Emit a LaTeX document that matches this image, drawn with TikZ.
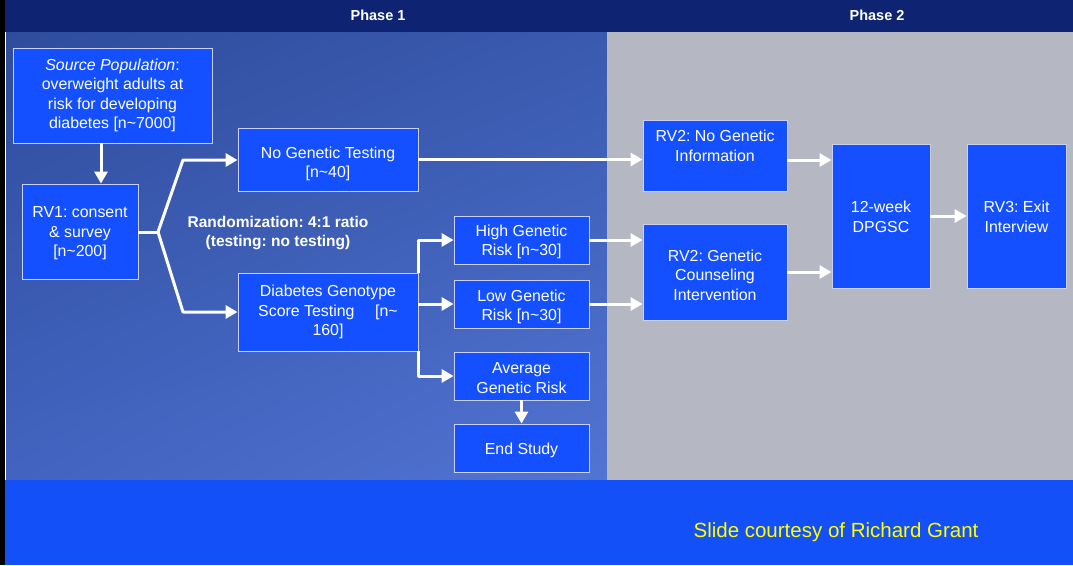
\documentclass[tikz,border=0pt]{standalone}
\usepackage{fontspec}
\setmainfont{Liberation Sans}
\frenchspacing
\usetikzlibrary{arrows.meta,shadings}
\definecolor{hdr}{HTML}{0E2472}
\definecolor{boxblue}{HTML}{1450FF}
\definecolor{bandblue}{HTML}{1450F8}
\definecolor{boxline}{HTML}{C8D0F4}
\definecolor{graybg}{HTML}{B5B7C2}
\definecolor{pA}{HTML}{2F4C9C}
\definecolor{pB}{HTML}{3A5AB0}
\definecolor{pC}{HTML}{4264C0}
\definecolor{pD}{HTML}{5274D2}
\definecolor{courtesy}{HTML}{FFFF00}
\begin{document}
\begin{tikzpicture}[x=1pt,y=-1pt,
  box/.style={draw=boxline, fill=boxblue, line width=0.9pt, text=white, align=center, inner sep=0pt,
    font=\fontsize{15.9}{19.5}\selectfont},
  boxtext/.style={text=white, align=center, inner sep=0pt, font=\fontsize{15.9}{19.5}\selectfont},
  txt/.style 2 args={label={[boxtext,yshift=#1]center:{#2}}},
  arr/.style={draw=white, line width=3pt, line join=round, -{Triangle[length=12pt,width=13pt]}},
  ln/.style={draw=white, line width=3pt, line join=round},
  phase/.style={text=white, font=\bfseries\fontsize{14.5}{17}\selectfont}
]
\useasboundingbox (0,0) rectangle (1073,565);
% backgrounds
\fill[hdr] (0,0) rectangle (1073,32);
\shade[upper left=pA, upper right=pB, lower left=pC, lower right=pD] (6,32) rectangle (607,480);
\fill[graybg] (607,32) rectangle (1073,480);
\fill[bandblue] (0,480) rectangle (1073,565);
\fill[black] (0,0) rectangle (5,565);

% headers
\node[phase] (ph1) at (378,15) {Phase 1};
\node[phase] (ph2) at (877,15) {Phase 2};

% boxes
\node[box, minimum width=199pt, minimum height=95pt] (src) at (112.5,95.5)
  {\textit{Source Population}:\\overweight adults at\\risk for developing\\diabetes [n\textasciitilde7000]};
\node[box, minimum width=116pt, minimum height=95pt,
  txt={-2pt}{RV1: consent\\\& survey\\{}[n\textasciitilde200]}] (rv1) at (80,231.5) {};
\node[box, minimum width=180pt, minimum height=63pt,
  txt={-4.5pt}{No Genetic Testing\\{}[n\textasciitilde40]}] (nogt) at (328,159.5) {};
\node[box, minimum width=180pt, minimum height=78pt] (diab) at (328,312)
  {Diabetes Genotype\\Score Testing\hspace{1.3em}[n\textasciitilde\\160]};
\node[box, minimum width=135pt, minimum height=48pt,
  txt={-2pt}{High Genetic\\Risk [n\textasciitilde30]}] (high) at (521.5,240) {};
\node[box, minimum width=135pt, minimum height=48pt,
  txt={-3pt}{Low Genetic\\Risk [n\textasciitilde30]}] (low) at (521.5,304) {};
\node[box, minimum width=135pt, minimum height=48pt,
  txt={-2pt}{Average\\Genetic Risk}] (avg) at (521.5,376) {};
\node[box, minimum width=135pt, minimum height=48pt,
  txt={-2pt}{End Study}] (end) at (521.5,448) {};
\node[box, minimum width=144pt, minimum height=71pt,
  txt={9.5pt}{RV2: No Genetic\\Information}] (rv2a) at (715,155.5) {};
\node[box, minimum width=144pt, minimum height=96pt,
  txt={-3pt}{RV2: Genetic\\Counseling\\Intervention}] (rv2b) at (715,272) {};
\node[box, minimum width=98pt, minimum height=144pt,
  txt={-1pt}{12-week\\DPGSC}] (dp) at (881,216) {};
\node[box, minimum width=99pt, minimum height=144pt,
  txt={-1pt}{RV3: Exit\\Interview}] (rv3) at (1016.5,216) {};

% randomization label
\node[text=white, align=center, font=\bfseries\fontsize{15.5}{19}\selectfont] (rand) at (278,233)
  {Randomization: 4:1 ratio\\(testing: no testing)};

% courtesy
\node[text=courtesy, font=\fontsize{20.5}{24}\selectfont] (cred) at (836,532) {Slide courtesy of Richard Grant};

% connectors
\coordinate (br) at (158,232);
\coordinate (bu) at (183,160);
\coordinate (bd) at (183,312);
\draw[arr] ([xshift=-11.5pt]src.south) -- ([xshift=-11.5pt]src.south |- rv1.north);
\draw[ln] (rv1.east |- br) -- (br);
\draw[arr] (br) -- (bu) -- (bu -| nogt.west);
\draw[arr] (br) -- (bd) -- (bd -| diab.west);
\draw[arr] (nogt.east) -- (nogt.east -| rv2a.west);
\draw[arr] (diab.north east) |- (high.west);
\draw[arr] (diab.east |- low.west) -- (low.west);
\draw[arr] (diab.south east) |- (avg.west);
\draw[arr] (high.east) -- (high.east -| rv2b.west);
\draw[arr] (low.east) -- (low.east -| rv2b.west);
\draw[arr] ([yshift=-4.5pt]rv2a.east) -- ([yshift=-4.5pt]rv2a.east -| dp.west);
\draw[arr] (rv2b.east) -- (rv2b.east -| dp.west);
\draw[arr] (dp.east) -- (rv3.west);
\draw[arr] (avg.south) -- (end.north);
\end{tikzpicture}
\end{document}
